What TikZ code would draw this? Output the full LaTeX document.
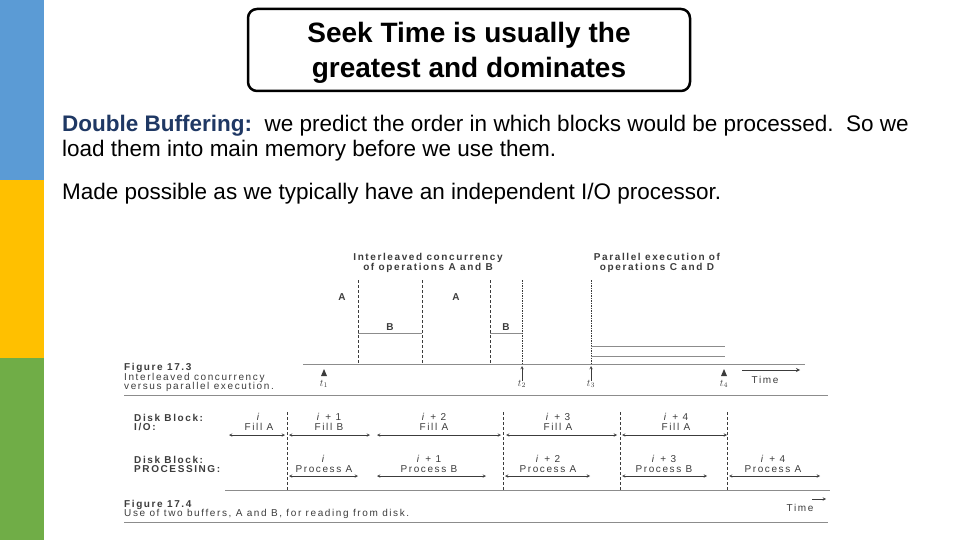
\documentclass[tikz,border=0pt]{standalone}
\usepackage{fontspec}
\setmainfont{Liberation Sans}
\newfontfamily\figfont[LetterSpace=16]{Liberation Sans}
\definecolor{barblue}{HTML}{5B9BD5}
\definecolor{baryellow}{HTML}{FFC000}
\definecolor{bargreen}{HTML}{70AD47}
\definecolor{navy}{HTML}{1F3864}
\definecolor{figline}{HTML}{8C8C8C}
\definecolor{figtext}{HTML}{3C3C3C}
\tikzset{
  titletxt/.style={align=center, inner sep=0pt, font=\bfseries\fontsize{28}{35}\selectfont},
  bodytxt/.style={anchor=base west, inner sep=0pt, font=\fontsize{22.5}{24}\selectfont},
  figtxt/.style={inner sep=0pt, align=center, text=figtext, font=\figfont\fontsize{10}{10}\selectfont},
  fighead/.style={figtxt, font=\figfont\bfseries\fontsize{10}{10}\selectfont},
  capt/.style={figtxt, anchor=base west},
  rowhead/.style={capt, font=\figfont\bfseries\fontsize{10}{10}\selectfont},
  rule/.style={figline, line width=0.8pt},
  tick/.style={figtext, line width=0.5pt},
  span/.style={<->, figtext, line width=0.5pt}
}
\begin{document}
\begin{tikzpicture}[x=1pt, y=-1pt, >=stealth, line join=round]
	\useasboundingbox (0,0) rectangle (960,540);
	% side bar
	\fill[barblue] (0,0) rectangle (44,180);
	\fill[baryellow] (0,180) rectangle (44,358);
	\fill[bargreen] (0,358) rectangle (44,540);
	% title and text
	\draw[line width=2.5pt, rounded corners=9pt] (248,9) rectangle (690,91);
	\node (seek) [titletxt] at (469,53) {Seek Time is usually the\\greatest and dominates};
	\node (dbl) [bodytxt] at (62,132) {\textcolor{navy}{\bfseries Double Buffering:}\ \ we predict the order in which blocks would be processed.\ \ So we};
	\node (load) [bodytxt] at (62,157) {load them into main memory before we use them.};
	\node (made) [bodytxt] at (62,200) {Made possible as we typically have an independent I/O processor.};
	% figure 17.3
	\node (intl) [fighead] at (428,263) {Interleaved concurrency\\of operations A and B};
	\node (para) [fighead] at (657,263) {Parallel execution of\\operations C and D};
	\draw[rule] (303,364) coordinate (axL) -- (805,364) coordinate (axR);
	\foreach \x in {358,422,490}
		\draw[tick, dash pattern=on 3pt off 2pt] (\x,280) -- (\x,364);
	\foreach \x in {522,591}
		\draw[tick, dash pattern=on 1.5pt off 1pt] (\x,280) -- (\x,364);
	\draw[rule] (358,333) -- (422,333);
	\draw[rule] (490,333) -- (522,333);
	\draw[rule] (591,346) -- (725,346);
	\draw[rule] (591,356) -- (725,356);
	\node (a1) [fighead] at (342,297) {A};
	\node (a2) [fighead] at (456,297) {A};
	\node (b1) [fighead] at (390,327) {B};
	\node (b2) [fighead] at (506,327) {B};
	\fill[figtext] (321,376) -- (327,376) -- (324,369) -- cycle;
	\fill[figtext] (721,376) -- (727,376) -- (724,369) -- cycle;
	\draw[->, tick] (522,381) -- (522,366);
	\draw[->, tick] (591,381) -- (591,366);
	\node (t1) [figtxt] at (324,384) {$t_1$};
	\node (t2) [figtxt] at (522,384) {$t_2$};
	\node (t3) [figtxt] at (591,384) {$t_3$};
	\node (t4) [figtxt] at (724,384) {$t_4$};
	\draw[->, tick, line width=0.8pt] (742,370) -- (800,370);
	\node (time1) [figtxt] at (765,380) {Time};
	\node (fig3) [capt] at (124,370) {\bfseries Figure 17.3};
	\node (cap3a) [capt] at (124,380) {Interleaved concurrency};
	\node (cap3b) [capt] at (124,389) {versus parallel execution.};
	\draw[rule] (124,395) -- (828,395);
	% figure 17.4
	\node (io1) [rowhead] at (134,421) {Disk Block:};
	\node (io2) [rowhead] at (134,430) {I/O:};
	\node (pr1) [rowhead] at (134,463) {Disk Block:};
	\node (pr2) [rowhead] at (134,472) {PROCESSING:};
	\foreach \x in {287,503,620,727}
		\draw[tick, dash pattern=on 3pt off 2pt] (\x,412) -- (\x,490);
	\draw[span] (229,435) -- (285,435);
	\draw[span] (289,435) -- (370,435);
	\draw[span] (377,435) -- (501,435);
	\draw[span] (506,435) -- (617,435);
	\draw[span] (622,435) -- (727,435);
	\draw[span] (289,476) -- (358,476);
	\draw[span] (377,476) -- (486,476);
	\draw[span] (505,476) -- (590,476);
	\draw[span] (622,476) -- (707,476);
	\draw[span] (729,476) -- (820,476);
	\node (f0) [figtxt] at (259,422) {\textit{i}\\Fill A};
	\node (f1) [figtxt] at (329,422) {\textit{i} + 1\\Fill B};
	\node (f2) [figtxt] at (434,422) {\textit{i} + 2\\Fill A};
	\node (f3) [figtxt] at (558,422) {\textit{i} + 3\\Fill A};
	\node (f4) [figtxt] at (676,422) {\textit{i} + 4\\Fill A};
	\node (p0) [figtxt] at (324,464) {\textit{i}\\Process A};
	\node (p1) [figtxt] at (429,464) {\textit{i} + 1\\Process B};
	\node (p2) [figtxt] at (548,464) {\textit{i} + 2\\Process A};
	\node (p3) [figtxt] at (664,464) {\textit{i} + 3\\Process B};
	\node (p4) [figtxt] at (773,464) {\textit{i} + 4\\Process A};
	\draw[rule] (225,490) -- (830,490);
	\draw[->, tick] (812,499) -- (826,499);
	\node (time2) [figtxt] at (800,508) {Time};
	\node (fig4) [capt] at (124,507) {\bfseries Figure 17.4};
	\node (cap4) [capt] at (124,516) {Use of two buffers, A and B, for reading from disk.};
	\draw[rule] (124,522) -- (828,522);
\end{tikzpicture}
\end{document}
